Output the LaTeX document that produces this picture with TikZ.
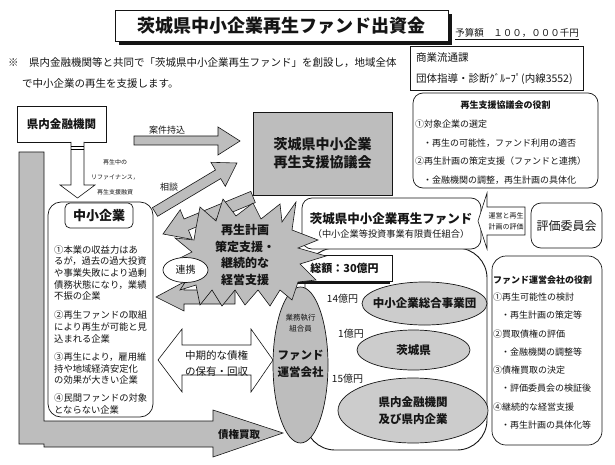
\documentclass[tikz,border=0pt]{standalone}
\usepackage{fontspec}
\setmainfont{Noto Sans CJK JP}
\usepackage{tikz}
\usetikzlibrary{shapes.geometric,shadows}
\definecolor{ink}{HTML}{151515}
\definecolor{grain}{HTML}{BDBDBD}
\definecolor{grainlt}{HTML}{CCCCCC}
\newcommand{\fsz}[2]{\fontsize{#1}{#2}\selectfont}

\begin{document}
\begin{tikzpicture}[x=1pt,y=-1pt,
  every node/.style={inner sep=0pt,text=ink},
  plainbox/.style={draw=ink,fill=white,line width=0.8pt},
  roundbox/.style={draw=ink,fill=white,line width=0.7pt,rounded corners=10pt},
  graybox/.style={draw=ink,fill=grain,line width=0.9pt},
  blob/.style={ellipse,draw=ink,fill=grainlt,line width=0.7pt},
  blockarr/.style={draw=ink,fill=grain,line width=0.6pt},
  hollowarr/.style={draw=ink,fill=white,line width=0.6pt},
  txt/.style={anchor=west,align=left}
]
  \useasboundingbox (0,0) rectangle (615,465);

  % heading
  \node[plainbox,line width=1pt,minimum width=333pt,minimum height=31pt,font=\fsz{18}{18}\bfseries,
        drop shadow={shadow xshift=4pt,shadow yshift=-4pt,fill=ink,opacity=1}]
        (title) at (281.5,26) {茨城県中小企業再生ファンド出資金};
  \node[font=\fsz{9.5}{9.5}] (budget) at (517,34) {\underline{予算額　１００，０００千円}};
  \node[txt,font=\fsz{10.5}{10.5}] (note1) at (8,63)
    {※　県内金融機関等と共同で「茨城県中小企業再生ファンド」を創設し，地域全体};
  \node[txt,font=\fsz{10.5}{10.5}] (note2) at (22,84) {で中小企業の再生を支援します。};

  \node[plainbox,minimum width=173pt,minimum height=44pt] (dept) at (496.5,68) {};
  \node[txt,font=\fsz{10.5}{10.5}] at (416,58) {商業流通課};
  \node[txt,font=\fsz{10.5}{10.5}] at (416,79) {団体指導・診断ｸﾞﾙｰﾌﾟ(内線3552)};

  % role of the council
  \node[roundbox,minimum width=185pt,minimum height=95pt] (rolec) at (505.5,140.5) {};
  \node[font=\fsz{9}{9}\bfseries] at (505.5,105) {再生支援協議会の役割};
  \node[txt,font=\fsz{9}{9}] at (415,124) {①対象企業の選定};
  \node[txt,font=\fsz{9}{9}] at (423,143) {・再生の可能性，ファンド利用の適否};
  \node[txt,font=\fsz{9}{9}] at (415,161) {②再生計画の策定支援（ファンドと連携）};
  \node[txt,font=\fsz{9}{9}] at (423,180) {・金融機関の調整，再生計画の具体化};

  % banks and flows
  \node[plainbox,minimum width=89pt,minimum height=36pt,font=\fsz{11.5}{11.5}\bfseries] (bank) at (61.5,124) {県内金融機関};
  \draw[hollowarr] (71,142) -- (71,185) -- (60,185) -- (77.5,198) -- (95,185) -- (84,185) -- (84,142);
  \draw[line width=0.5pt] (71,146) -- (84,146) (71,149) -- (84,149);
  \node[font=\fsz{6}{15},align=center] (refi) at (115,177) {再生中の\\リファイナンス，\\再生支援融資};

  \draw[blockarr] (134,136) -- (218,136) -- (218,127) -- (240,141) -- (218,155) -- (218,145) -- (134,145) -- cycle;
  \node[font=\fsz{9}{9}] at (167,130) {案件持込};
  \draw[blockarr] (152.4,207.7) -- (215.5,170.0) -- (210.9,162.3) -- (237,163) -- (225.3,186.3) -- (220.7,178.6) -- (157.6,216.3) -- cycle;
  \node[font=\fsz{9}{9}] at (169,187) {相談};

  \node[graybox,minimum width=139pt,minimum height=83pt,align=center,font=\fsz{14}{18}\bfseries] (council) at (322.5,153.5)
    {茨城県中小企業\\再生支援協議会};

  \draw[blockarr] (19,152) -- (44,152) -- (44,421) -- (213,421) -- (213,410) -- (283,433) -- (213,457)
    -- (213,447) -- (44,447) -- (44,444) -- (19,444) -- cycle;
  \node[font=\fsz{10.5}{10.5}\bfseries] at (239,435) {債権買取};

  % small and medium enterprises
  \node[roundbox,rounded corners=13pt,minimum width=105pt,minimum height=215pt] (sme) at (100.5,309.5) {};
  \node[roundbox,rounded corners=5pt,minimum width=68pt,minimum height=25pt,font=\fsz{13}{13}\bfseries] (smehead) at (99,215.5) {中小企業};
  \node[txt,font=\fsz{9.3}{11.6}] (item1) at (54,273) {①本業の収益力はあ\\るが，過去の過大投資\\や事業失敗により過剰\\債務状態になり，業績\\不振の企業};
  \node[txt,font=\fsz{9.3}{11.6}] (item2) at (54,327) {②再生ファンドの取組\\により再生が可能と見\\込まれる企業};
  \node[txt,font=\fsz{9.3}{11.6}] (item3) at (54,368.5) {③再生により，雇用維\\持や地域経済安定化\\の効果が大きい企業};
  \node[txt,font=\fsz{9.3}{11.6}] (item4) at (54,404) {④民間ファンドの対象\\とならない企業};

  \draw[hollowarr] (158,360) -- (182,329) -- (182,345) -- (251,345) -- (251,329) -- (273,360) -- (251,392)
    -- (251,375) -- (182,375) -- (182,392) -- cycle;
  \node[font=\fsz{10.5}{16},align=center] (hold) at (216.5,363) {中期的な債権\\の保有・回収};

  % the fund
  \node[draw=ink,line width=0.9pt,rounded corners=30pt,minimum width=182pt,minimum height=202pt] (pool) at (396,349) {};
  \node[roundbox,minimum width=179pt,minimum height=51pt] (fund) at (391.5,223.5) {};
  \node[font=\fsz{12.5}{12.5}\bfseries] (fundname) at (391,219) {茨城県中小企業再生ファンド};
  \node[font=\fsz{9.2}{9.2}] (fundsub) at (391,234) {（中小企業等投資事業有限責任組合）};

  \draw[hollowarr] (525,207) -- (487,207) -- (487,193) -- (478,221) -- (487,249) -- (487,235) -- (525,235) -- cycle;
  \node[font=\fsz{7}{11},align=center] (evalnote) at (506,221) {運営と再生\\計画の評価};
  \node[roundbox,minimum width=71pt,minimum height=45pt,font=\fsz{12}{12}] (eval) at (566.5,225.5) {評価委員会};

  \node[plainbox,minimum width=95pt,minimum height=26pt,font=\fsz{11}{11}\bfseries,
        drop shadow={shadow xshift=-2.5pt,shadow yshift=-2.5pt,fill=ink,opacity=1}] (total) at (344.5,268) {総額：30億円};

  \node[blob,fill=grain,minimum width=55pt,minimum height=156pt] (mgr) at (300.5,365) {};
  \node[font=\fsz{7.5}{10.5},align=center] at (300.5,323) {業務執行\\組合員};
  \node[font=\fsz{11.5}{17}\bfseries,align=center] at (300.5,363.5) {ファンド\\運営会社};

  \node[blob,minimum width=125pt,minimum height=43pt] (jasme) at (424.5,303.5) {};
  \node[font=\fsz{11.5}{11.5}\bfseries] at (jasme) {中小企業総合事業団};
  \node[blob,minimum width=113pt,minimum height=40pt] (pref) at (413.5,350) {};
  \node[font=\fsz{11.5}{11.5}\bfseries] at (pref) {茨城県};
  \node[blob,minimum width=150pt,minimum height=65pt] (banks) at (413,410.5) {};
  \node[font=\fsz{11.5}{17}\bfseries,align=center] at (banks) {県内金融機関\\及び県内企業};
  \node[font=\fsz{10}{10}] at (342.5,299) {14億円};
  \node[font=\fsz{10}{10}] at (351,334) {1億円};
  \node[font=\fsz{10}{10}] at (347.5,379) {15億円};

  % role of the fund manager
  \node[roundbox,rounded corners=14pt,minimum width=110pt,minimum height=189pt] (rolef) at (547,350.5) {};
  \node[txt,font=\fsz{9}{9}\bfseries] at (493,280) {ファンド運営会社の役割};
  \node[txt,font=\fsz{9}{9}] at (493,297) {①再生可能性の検討};
  \node[txt,font=\fsz{9}{9}] at (501,315) {・再生計画の策定等};
  \node[txt,font=\fsz{9}{9}] at (493,334) {②買取債権の評価};
  \node[txt,font=\fsz{9}{9}] at (501,352) {・金融機関の調整等};
  \node[txt,font=\fsz{9}{9}] at (493,370) {③債権買取の決定};
  \node[txt,font=\fsz{9}{9}] at (501,388) {・評価委員会の検証後};
  \node[txt,font=\fsz{9}{9}] at (493,407) {④継続的な経営支援};
  \node[txt,font=\fsz{9}{9}] at (501,425) {・再生計画の具体化等};

  % support burst
  \draw[blockarr] (250.8,191.4) -- (184.0,219.0) -- (180.2,209.8) -- (163,234) -- (192.2,239.4) -- (188.5,230.2) -- (255.3,202.6) -- cycle;
  \draw[blockarr] (235,290) -- (184,290) -- (184,282) -- (156,297) -- (184,311) -- (184,304) -- (235,304) -- cycle;
  \draw[blockarr] (196,228) -- (200,207) -- (216,221) -- (223,199) -- (236,216) -- (253,203) -- (261,219)
    -- (280,204) -- (282,222) -- (296,202) -- (292,230) -- (318,240) -- (298,248) -- (326,256) -- (300,264)
    -- (316,280) -- (298,282) -- (292,300) -- (280,290) -- (270,306) -- (258,290) -- (245,305) -- (235,290)
    -- (222,306) -- (212,290) -- (200,305) -- (196,285) -- (180,290) -- (192,272) -- (172,262) -- (192,252)
    -- (175,238) -- (194,240) -- cycle;
  \node[font=\fsz{12}{16.5}\bfseries,align=center] (burst) at (245,255) {再生計画\\策定支援・\\継続的な\\経営支援};
  \node[ellipse,draw=ink,fill=white,line width=0.7pt,minimum width=45pt,minimum height=25pt,font=\fsz{10}{10}] (renkei) at (185.5,270) {連携};
\end{tikzpicture}
\end{document}
